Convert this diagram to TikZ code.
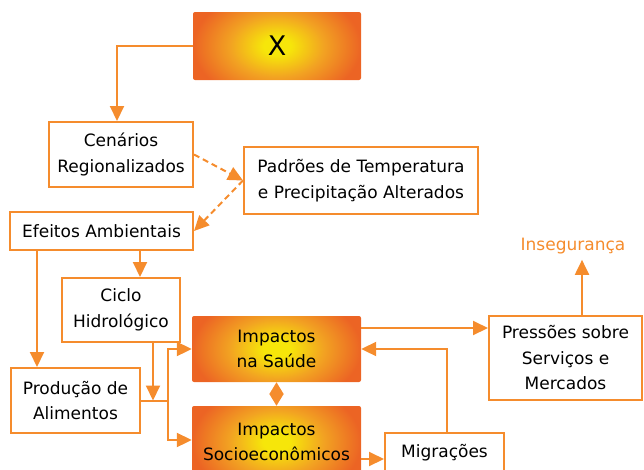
\documentclass[tikz,border=0pt]{standalone}
\usepackage{fontspec}
\setmainfont{DejaVu Sans}
\usepackage{xcolor}
\usetikzlibrary{positioning}
\usetikzlibrary{arrows.meta}
\usetikzlibrary{calc}

\definecolor{lineorange}{RGB}{245,140,45}
\definecolor{glowin}{RGB}{246,230,10}
\definecolor{glowmid}{RGB}{242,162,34}
\definecolor{glowout}{RGB}{236,100,36}
\pgfdeclareradialshading{glow}{\pgfpoint{0bp}{0bp}}{color(0bp)=(glowin); color(4bp)=(glowin); color(14bp)=(glowmid); color(25bp)=(glowout); color(50bp)=(glowout)}

\begin{document}
\begin{tikzpicture}[x=1pt,y=-1pt,>={Triangle[length=15pt,width=14pt]},
                    node font=\fontsize{17}{25.5}\selectfont,
                    plain box/.style={rectangle,draw=lineorange,line width=2pt,fill=white,
                                      inner sep=0pt,align=center},
                    hot box/.style={rectangle,rounded corners=2pt,inner sep=0pt,align=center,
                                    path picture={\shade[shading=glow]
                                      ([yshift=-22pt]path picture bounding box.south west) rectangle
                                      ([yshift=22pt]path picture bounding box.north east);}},
                    link/.style={->,draw=lineorange,line width=2pt},
                    hint/.style={link,dashed,dash pattern=on 6pt off 4pt}]
\clip (0,0) rectangle (644,469);

% caixas
\node[hot box, minimum width=168pt, minimum height=68pt, font=\fontsize{27}{30}\selectfont] (x) at (277,46) {X};
\node[plain box, minimum width=144pt, minimum height=65pt] (cen) at (121,154.5) {Cenários\\Regionalizados};
\node[plain box, minimum width=234pt, minimum height=67pt] (pad) at (361,180.5) {Padrões de Temperatura\\e Precipitação Alterados};
\node[plain box, minimum width=183pt, minimum height=38pt] (efe) at (101.5,231) {Efeitos Ambientais};
\node[plain box, minimum width=118pt, minimum height=64pt] (cic) at (121,310) {Ciclo\\Hidrológico};
\node[plain box, minimum width=129pt, minimum height=65pt] (pro) at (75.5,400.5) {Produção de\\Alimentos};
\node[hot box, minimum width=169pt, minimum height=66pt] (sau) at (276.5,349) {Impactos\\na Saúde};
\node[hot box, minimum width=169pt, minimum height=72pt] (soc) at (276.5,442) {Impactos\\Socioeconômicos};
\node[plain box, minimum width=119pt, minimum height=40pt] (mig) at (444.5,453) {Migrações};
\node[plain box, minimum width=153pt, minimum height=84pt] (pre) at (565.5,358) {Pressões sobre\\Serviços e\\Mercados};
\node[text=lineorange] (ins) at (573,246) {Insegurança};

\coordinate (j) at ([xshift=27pt]pro.east);

% ligacoes
\draw[link] (x.west) -| ([xshift=-4pt]cen.north);
\draw[hint] (cen.east) -- (pad.west);
\draw[hint] (pad.west) -- (efe.east);
\draw[link] ([xshift=27pt]pro.north west |- efe.south) -- ([xshift=27pt]pro.north west);
\draw[link] ([xshift=19pt]cic.north |- efe.south) -- ([xshift=19pt]cic.north);
\draw[link] ([xshift=32pt]cic.south) -- ([xshift=32pt]cic.south |- pro.east);
\draw[link,-] (pro.east) -- (j);
\draw[link] (j) |- (sau.west);
\draw[link] (j) |- ([yshift=2pt]soc.west);
\draw[link,{Triangle[length=12pt,width=14pt]}-{Triangle[length=12pt,width=14pt]}] (sau.south) -- (soc.north);
\draw[link] ([yshift=21pt]sau.east) -- ([yshift=21pt]sau.east -| pre.west);
\draw[link] ([yshift=-17pt]soc.east) -- ([yshift=-17pt]soc.east -| mig.west);
\draw[link] ([xshift=2pt]mig.north) |- (sau.east);
\draw[link] ([xshift=16.5pt]pre.north) -- ([xshift=16.5pt]pre.north |- ins.south);

\end{tikzpicture}
\end{document}
